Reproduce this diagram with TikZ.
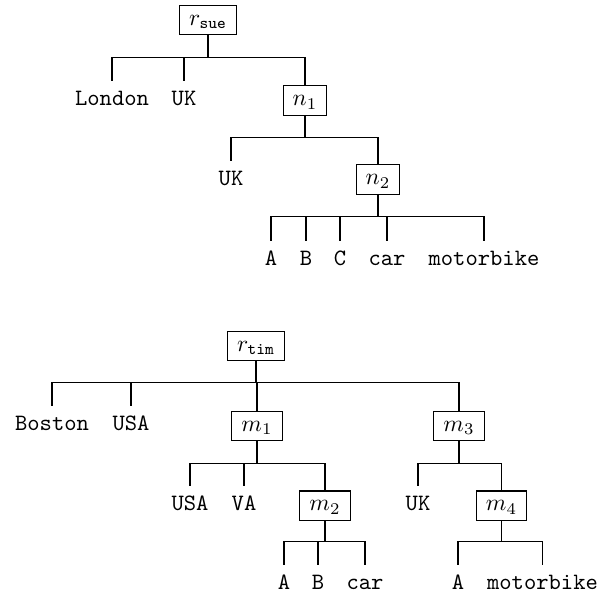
\documentclass[tikz,border=0pt]{standalone}
\begin{document}
\begin{tikzpicture}[x=0.4265pt, y=-0.4265pt,
  every node/.style={font=\fontsize{10}{12}\selectfont},
  inner/.style={draw, line width=0.45pt, inner xsep=4.1pt, inner ysep=0pt,
    minimum height=12.4pt, text height=6.2pt, text depth=1.8pt},
  leaf/.style={inner xsep=0pt, inner ysep=4.1pt, text height=6.2pt,
    text depth=0pt, font=\fontsize{10}{12}\selectfont\ttfamily},
  link/.style={line width=0.45pt}]
\useasboundingbox (0,0) rectangle (610,593);

% ---- tree of sue ----
\node[inner] (rsue) at (208,20) {$r_{\mathtt{sue}}$};
\node[leaf] (london) at (112,98) {London};
\node[leaf] (uka) at (184,98) {UK};
\node[inner] (n1) at (305,100.5) {$n_1$};
\node[leaf] (ukb) at (231,178) {UK};
\node[inner] (n2) at (378,179.5) {$n_2$};
\node[leaf] (a1) at (271,258) {A};
\node[leaf] (b1) at (306,258) {B};
\node[leaf] (c1) at (340,258) {C};
\node[leaf] (car1) at (387,258) {car};
\node[leaf] (moto1) at (484,258) {motorbike};

\foreach \c in {london,uka,n1}
  \draw[link] (rsue.south) -- ++(0,22) -| (\c.north);
\foreach \c in {ukb,n2}
  \draw[link] (n1.south) -- ++(0,22) -| (\c.north);
\foreach \c in {a1,b1,c1,car1,moto1}
  \draw[link] (n2.south) -- ++(0,22) -| (\c.north);

% ---- tree of tim ----
\node[inner] (rtim) at (256,346) {$r_{\mathtt{tim}}$};
\node[leaf] (boston) at (52,423) {Boston};
\node[leaf] (usaa) at (131,423) {USA};
\node[inner] (m1) at (257,426) {$m_1$};
\node[inner] (m3) at (459,426) {$m_3$};
\node[leaf] (usab) at (190,503) {USA};
\node[leaf] (va) at (244,503) {VA};
\node[inner] (m2) at (325,505.5) {$m_2$};
\node[leaf] (ukc) at (418,503) {UK};
\node[inner] (m4) at (501.5,505.5) {$m_4$};
\node[leaf] (a2) at (284,582) {A};
\node[leaf] (b2) at (318,582) {B};
\node[leaf] (car2) at (365,582) {car};
\node[leaf] (a3) at (458,582) {A};
\node[leaf] (moto2) at (542.5,582) {motorbike};

\foreach \c in {boston,usaa,m1,m3}
  \draw[link] (rtim.south) -- ++(0,21) -| (\c.north);
\foreach \c in {usab,va,m2}
  \draw[link] (m1.south) -- ++(0,22) -| (\c.north);
\foreach \c in {ukc,m4}
  \draw[link] (m3.south) -- ++(0,22) -| (\c.north);
\foreach \c in {a2,b2,car2}
  \draw[link] (m2.south) -- ++(0,21) -| (\c.north);
\foreach \c in {a3,moto2}
  \draw[link] (m4.south) -- ++(0,21) -| (\c.north);
\end{tikzpicture}
\end{document}
